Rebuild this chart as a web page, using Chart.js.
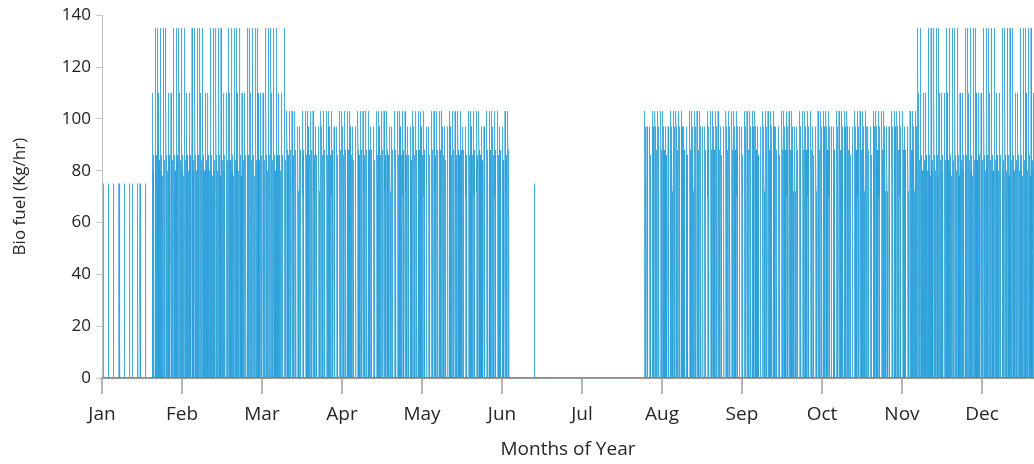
<!DOCTYPE html>
<html>
<head>
<meta charset="utf-8">
<script src="https://cdn.jsdelivr.net/npm/chart.js@4.4.1/dist/chart.umd.min.js"></script>
<style>
  html, body { margin: 0; padding: 0; background: #fff; }
  #wrap { width: 1034px; height: 464px; }
</style>
</head>
<body>
<div id="wrap"><canvas id="fuelChart" width="1034" height="464"></canvas></div>
<script>
// Axis labels
const monthLabels = ['Jan', 'Feb', 'Mar', 'Apr', 'May', 'Jun', 'Jul', 'Aug', 'Sep', 'Oct', 'Nov', 'Dec'];
const yTicks = [0, 20, 40, 60, 80, 100, 120, 140];
const hoursPerMonth = 730;
const visibleHours = 8505; // the picture is cut off a little before the end of December

// Hourly profiles (kg/hr), one value per hour of the day
const winterWeekday = [0, 0, 0, 0, 0, 0, 135, 0, 110, 86, 0, 80, 0, 86, 0, 80, 0, 84, 0, 80, 0, 78, 0, 0];
const winterWeekend = [0, 0, 0, 0, 0, 0, 110, 0, 86, 0, 80, 0, 86, 0, 80, 0, 84, 0, 80, 0, 0, 0, 0, 0];
const springWeekday = [0, 0, 0, 0, 0, 0, 103, 0, 97, 88, 70, 86, 0, 88, 72, 84, 70, 0, 86, 0, 0, 0, 0, 0];
const springWeekend = [0, 0, 0, 0, 0, 0, 97, 0, 88, 70, 86, 0, 84, 72, 0, 0, 0, 0, 0, 0, 0, 0, 0, 0];
const autumnWeekday = [0, 0, 0, 0, 0, 0, 103, 97, 0, 88, 70, 88, 0, 97, 86, 70, 0, 88, 72, 0, 0, 0, 0, 0];
const autumnWeekend = [0, 0, 0, 0, 0, 0, 97, 0, 88, 70, 0, 86, 72, 0, 0, 0, 0, 0, 0, 0, 0, 0, 0, 0];
const spikeDay      = [0, 0, 0, 0, 0, 0, 0, 0, 0, 0, 0, 75, 75, 0, 0, 0, 0, 0, 0, 0, 0, 0, 0, 0];

// Working days / weekend, by day-of-year index modulo 7
const weekPattern = ['wd', 'wd', 'wd', 'wd', 'we', 'we', 'wd'];

// Days of January with a short run, and the lone run in June
const spikeDays = [0, 2, 4, 6, 8, 10, 11, 13, 14, 16, 164];

// Operating periods (day of year)
const periodStart = [19, 70, 206, 310];
const periodEnd = [70, 155, 310, 366];
const periodSeason = ['winter', 'spring', 'autumn', 'winter'];

const profiles = {
  winter: { wd: winterWeekday, we: winterWeekend },
  spring: { wd: springWeekday, we: springWeekend },
  autumn: { wd: autumnWeekday, we: autumnWeekend }
};

const points = [];
for (let h = 0; h <= visibleHours; h++) {
  const day = Math.floor(h / 24);
  const hour = h % 24;
  let value = 0;
  if (spikeDays.includes(day)) value = spikeDay[hour];
  periodStart.forEach((start, i) => {
    if (day >= start && day < periodEnd[i]) {
      value = profiles[periodSeason[i]][weekPattern[day % 7]][hour];
    }
  });
  points.push({ x: h, y: value });
}

const fontFamily = "'Open Sans', 'Noto Sans', sans-serif";

new Chart(document.getElementById('fuelChart'), {
  type: 'line',
  data: {
    datasets: [{
      data: points,
      borderColor: 'rgba(34, 157, 217, 0.62)',
      borderWidth: 1,
      pointRadius: 0,
      tension: 0,
      fill: false
    }]
  },
  options: {
    responsive: false,
    animation: false,
    parsing: false,
    normalized: true,
    events: [],
    layout: { padding: { top: 0, right: 0, bottom: 0, left: 0 } },
    plugins: {
      legend: { display: false },
      tooltip: { enabled: false }
    },
    scales: {
      x: {
        type: 'linear',
        min: 0,
        max: visibleHours,
        afterBuildTicks: (scale) => {
          scale.ticks = monthLabels.map((m, i) => ({ value: i * hoursPerMonth }));
        },
        afterFit: (scale) => { scale.height = 86; },
        ticks: {
          autoSkip: false,
          maxRotation: 0,
          padding: 9,
          color: '#262626',
          font: { family: fontFamily, size: 19 },
          callback: (v) => monthLabels[Math.round(v / hoursPerMonth)]
        },
        grid: { drawOnChartArea: false, drawTicks: true, tickLength: 16, color: '#b5b5b5', lineWidth: 2 },
        border: { display: true, color: '#9a9a9a', width: 2 },
        title: {
          display: true,
          text: 'Months of Year',
          color: '#262626',
          font: { family: fontFamily, size: 19 },
          padding: { top: 0, bottom: 3 }
        }
      },
      y: {
        min: 0,
        max: 140,
        afterBuildTicks: (scale) => {
          scale.ticks = yTicks.map((v) => ({ value: v }));
        },
        afterFit: (scale) => { scale.width = 102; },
        ticks: {
          padding: 5,
          color: '#222',
          font: { family: fontFamily, size: 17 }
        },
        grid: { drawOnChartArea: false, drawTicks: true, tickLength: 6, color: '#c8c8c8', lineWidth: 1 },
        border: { display: true, color: '#bdbdbd', width: 1 },
        title: {
          display: true,
          text: 'Bio fuel (Kg/hr)',
          color: '#262626',
          font: { family: fontFamily, size: 17 },
          padding: { top: 10, bottom: 0 }
        }
      }
    }
  }
});
</script>
</body>
</html>
